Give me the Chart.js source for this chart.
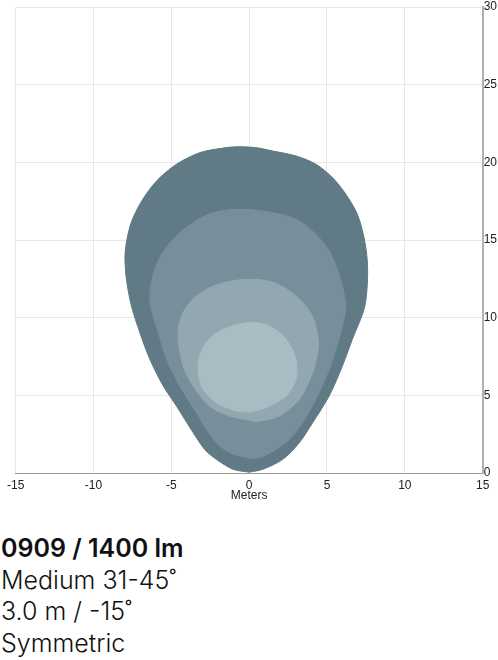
<!DOCTYPE html>
<html>
<head>
<meta charset="utf-8">
<script src="https://cdn.jsdelivr.net/npm/chart.js@4"></script>
<style>
  body { margin: 0; background: #fff; width: 498px; height: 660px; overflow: hidden; }
  #wrap { position: absolute; left: 0; top: 0; width: 498px; height: 502px; }
  #info { position: absolute; left: 1px; top: 533px; font-family: Inter, "Noto Sans", sans-serif; color: #111; }
  #info div { font-size: 25px; line-height: 31.5px; font-weight: 300; white-space: nowrap; }
  #info .title { font-weight: 600; }
</style>
</head>
<body>
<div id="wrap"><canvas id="myChart"></canvas></div>
<div id="info">
  <div class="title">0909 / 1400 lm</div>
  <div>Medium 31-45˚</div>
  <div>3.0 m / -15˚</div>
  <div>Symmetric</div>
</div>
<script>
// isolux contours, outer -> inner (meters), traced from bottom centre round the left side
const outerX = [0.0, -1.04, -2.11, -2.86, -3.6, -4.67, -5.52, -6.38, -7.02, -7.55, -7.87, -7.98, -7.87, -7.55, -6.91, -5.95, -4.67, -3.18, -1.8, -0.83, 0.4, 1.52, 3.01, 4.29, 5.35, 6.21, 6.95, 7.38, 7.59, 7.59, 7.4, 6.63, 5.99, 5.14, 4.08, 3.22, 2.16, 0.88, 0.0];
const outerY = [0.05, 0.24, 0.88, 1.52, 2.6, 4.31, 5.6, 7.32, 9.03, 10.7, 12.36, 13.86, 14.94, 16.2, 17.5, 18.8, 19.88, 20.62, 20.9, 21.0, 20.95, 20.73, 20.41, 19.88, 19.02, 17.95, 16.66, 15.15, 13.65, 12.15, 10.6, 8.61, 6.89, 4.96, 3.24, 1.95, 0.88, 0.24, 0.05];

const midX = [0.0, -1.26, -2.11, -2.75, -3.39, -4.46, -5.31, -5.84, -6.3, -6.38, -6.16, -5.63, -4.78, -3.6, -2.32, -0.62, 1.52, 3.01, 4.29, 5.14, 5.78, 6.1, 6.21, 5.78, 5.14, 4.29, 3.43, 2.58, 1.73, 0.66, 0.0];
const midY = [0.95, 1.31, 1.95, 2.81, 3.88, 5.6, 7.32, 9.03, 10.6, 11.51, 12.79, 14.08, 15.15, 16.12, 16.76, 16.98, 16.76, 16.34, 15.37, 14.3, 12.79, 11.51, 10.6, 8.61, 6.68, 4.75, 3.24, 2.17, 1.52, 0.99, 0.95];

const innerX = [0.0, -1.26, -2.54, -3.6, -4.24, -4.56, -4.5, -4.15, -3.5, -2.5, -1.2, 0.2, 1.52, 2.7, 3.6, 4.2, 4.45, 4.08, 3.22, 1.94, 0.45, 0.0];
const innerY = [3.4, 3.67, 4.31, 5.6, 6.89, 8.61, 9.6, 10.5, 11.3, 11.95, 12.35, 12.47, 12.28, 11.65, 10.8, 9.75, 8.18, 6.46, 4.75, 3.67, 3.32, 3.4];

const coreX = [0.0, -0.83, -2.11, -3.07, -3.28, -2.75, -1.68, 0.0, 1.3, 2.37, 3.01, 3.01, 2.37, 1.09, 0.0];
const coreY = [3.93, 3.99, 4.53, 5.6, 7.1, 8.39, 9.25, 9.68, 9.47, 8.61, 7.32, 6.03, 4.96, 4.2, 3.93];

const xTicks = [-15, -10, -5, 0, 5, 10, 15];
const yTicks = [0, 5, 10, 15, 20, 25, 30];

const toPoints = (xs, ys) => xs.map((x, i) => ({ x: x, y: ys[i] }));

const contour = (xs, ys, color, order) => ({
  data: toPoints(xs, ys),
  showLine: true,
  fill: 'shape',
  backgroundColor: color,
  borderColor: color,
  borderWidth: 1,
  tension: 0.3,
  pointRadius: 0,
  order: order,
});

const data = {
  datasets: [
    contour(outerX, outerY, 'rgb(96,122,134)', 4),
    contour(midX, midY, 'rgb(118,143,155)', 3),
    contour(innerX, innerY, 'rgb(147,167,176)', 2),
    contour(coreX, coreY, 'rgb(169,187,195)', 1),
  ],
};

const tickFont = { family: '"Liberation Sans", Arial, sans-serif', size: 12, lineHeight: 1 };

const config = {
  type: 'scatter',
  data: data,
  options: {
    responsive: true,
    maintainAspectRatio: false,
    animation: false,
    layout: { padding: { left: 6, right: 0, top: -2, bottom: 0 } },
    plugins: { legend: { display: false }, tooltip: { enabled: false } },
    scales: {
      x: {
        type: 'linear',
        min: -15, max: 15,
        afterBuildTicks: (axis) => { axis.ticks = xTicks.map(v => ({ value: v })); },
        grid: { color: '#e8e8e8', drawTicks: false },
        border: { color: '#9a9a9a', width: 1 },
        ticks: { font: tickFont, color: '#222', padding: 7, maxRotation: 0 },
        title: { display: true, text: 'Meters', font: tickFont, color: '#222', padding: { top: -9, bottom: 0 } },
      },
      y: {
        type: 'linear',
        position: 'right',
        min: 0, max: 30,
        afterBuildTicks: (axis) => { axis.ticks = yTicks.map(v => ({ value: v })); },
        grid: { color: '#e8e8e8', drawTicks: false },
        border: { color: '#b0b0b0', width: 2 },
        ticks: { font: tickFont, color: '#222', padding: 1 },
      },
    },
  },
};

new Chart(document.getElementById('myChart'), config);
</script>
</body>
</html>
